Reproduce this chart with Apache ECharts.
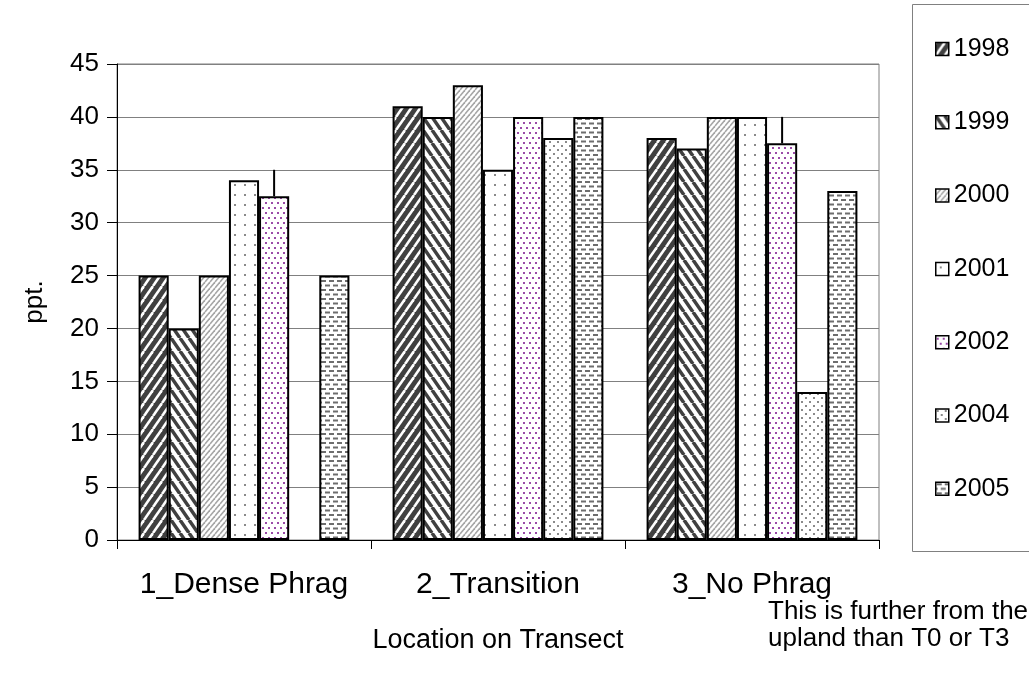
<!DOCTYPE html>
<html>
<head>
<meta charset="utf-8">
<script src="https://cdn.jsdelivr.net/npm/echarts@6/dist/echarts.min.js"></script>
<style>
html,body{margin:0;padding:0;background:#fff;}
#chart{width:1029px;height:685px;}
</style>
</head>
<body>
<div id="chart"></div>
<script>
// ---- data ----
const categories = ['1_Dense Phrag', '2_Transition', '3_No Phrag'];
const years = ['1998', '1999', '2000', '2001', '2002', '2004', '2005'];
const s1998 = [25, 41, 38];
const s1999 = [20, 40, 37];
const s2000 = [25, 43, 40];
const s2001 = [34, 35, 40];
const s2002 = [32.5, 40, 37.5];
const s2004 = [null, 38, 14];
const s2005 = [25, 40, 33];
const err2002High = [35, null, 40];
const yTicks = { min: 0, max: 45, interval: 5 };
const axisTitleX = 'Location on Transect';
const axisTitleY = 'ppt.';
const noteLines = ['This is further from the', 'upland than T0 or T3'];

// ---- patterns ----
function tile(w, h, draw) {
  const c = document.createElement('canvas');
  c.width = w; c.height = h;
  const ctx = c.getContext('2d');
  draw(ctx, w, h);
  return { image: c, repeat: 'repeat' };
}
function stripes(ctx, w, h, up, color, lw) {
  ctx.strokeStyle = color; ctx.lineWidth = lw; ctx.lineCap = 'butt';
  for (let k = -1; k <= 1; k++) {
    ctx.beginPath();
    if (up) { ctx.moveTo(k * w, h); ctx.lineTo(k * w + w, 0); }
    else { ctx.moveTo(k * w, 0); ctx.lineTo(k * w + w, h); }
    ctx.stroke();
  }
}
function dot(ctx, x, y, color, s) {
  ctx.fillStyle = color; ctx.fillRect(x, y, s, s);
}
const patterns = [
  tile(9, 13, (ctx, w, h) => { ctx.fillStyle = '#404040'; ctx.fillRect(0, 0, w, h); stripes(ctx, w, h, true, '#ffffff', 2.6); }),
  tile(9, 13, (ctx, w, h) => { ctx.fillStyle = '#ffffff'; ctx.fillRect(0, 0, w, h); stripes(ctx, w, h, false, '#404040', 3.5); }),
  tile(5, 6, (ctx, w, h) => { ctx.fillStyle = '#ffffff'; ctx.fillRect(0, 0, w, h); stripes(ctx, w, h, true, '#a6a6a6', 1.6); }),
  tile(10, 10, (ctx, w, h) => { ctx.fillStyle = '#ffffff'; ctx.fillRect(0, 0, w, h); dot(ctx, 4, 4, '#8a8a8a', 2); }),
  tile(6, 10, (ctx, w, h) => { ctx.fillStyle = '#ffffff'; ctx.fillRect(0, 0, w, h); dot(ctx, 1, 2, '#9a4aa8', 2); dot(ctx, 4, 7, '#9a4aa8', 2); }),
  tile(8, 8, (ctx, w, h) => { ctx.fillStyle = '#ffffff'; ctx.fillRect(0, 0, w, h); dot(ctx, 1, 1, '#8a8a8a', 2); dot(ctx, 5, 5, '#8a8a8a', 2); }),
  tile(8, 9, (ctx, w, h) => { ctx.fillStyle = '#ffffff'; ctx.fillRect(0, 0, w, h); ctx.fillStyle = '#6e6e6e'; ctx.fillRect(1, 1, 5, 2); ctx.fillRect(5, 5.5, 5, 2); ctx.fillRect(-3, 5.5, 5, 2); })
];

const seriesValues = [s1998, s1999, s2000, s2001, s2002, s2004, s2005];
const GAP = 0.17;
const barSeries = years.map((y, i) => ({
  name: y,
  type: 'bar',
  data: seriesValues[i],
  barGap: '0%',
  barCategoryGap: (GAP * 100) + '%',
  itemStyle: { color: patterns[i], borderColor: '#000', borderWidth: 2 },
  emphasis: { disabled: true },
  animation: false
}));

const errData = [];
err2002High.forEach((hi, i) => { if (hi != null) errData.push([i, s2002[i], hi]); });

const errSeries = {
  type: 'custom',
  name: 'err2002',
  z: 10,
  animation: false,
  data: errData,
  renderItem: function (params, api) {
    const ci = api.value(0), v = api.value(1), hi = api.value(2);
    const band = api.size([1, 0])[0];
    const bw = band * (1 - GAP) / years.length;
    const offset = (4 - (years.length - 1) / 2) * bw;
    const p1 = api.coord([ci, v]);
    const p2 = api.coord([ci, hi]);
    return {
      type: 'line',
      shape: { x1: p1[0] + offset, y1: p1[1], x2: p1[0] + offset, y2: p2[1] },
      style: { stroke: '#000', lineWidth: 2 }
    };
  }
};

const FONT = 'Liberation Sans, Arial, sans-serif';
const chart = echarts.init(document.getElementById('chart'), null, { renderer: 'canvas' });
chart.setOption({
  backgroundColor: '#ffffff',
  animation: false,
  textStyle: { fontFamily: FONT, color: '#000' },
  grid: { left: 117, right: 150, top: 64, bottom: 145, show: true, borderColor: '#808080', borderWidth: 1 },
  legend: {
    data: years,
    orient: 'vertical',
    left: 930,
    top: 30,
    itemWidth: 13,
    itemHeight: 13,
    itemGap: 45.3,
    icon: 'rect',
    selectedMode: false,
    textStyle: { fontSize: 25, fontFamily: FONT, color: '#000', lineHeight: 28 },
    itemStyle: { borderColor: '#000', borderWidth: 1.5 }
  },
  xAxis: {
    type: 'category',
    data: categories,
    axisLine: { lineStyle: { color: '#000', width: 1 } },
    axisTick: { show: true, alignWithLabel: false, length: 9, inside: false, lineStyle: { color: '#000' } },
    axisLabel: { fontSize: 30, color: '#000', margin: 30, fontFamily: FONT, interval: 0, hideOverlap: false },
    name: axisTitleX,
    nameLocation: 'middle',
    nameGap: 87,
    nameTextStyle: { fontSize: 27, color: '#000', fontFamily: FONT },
    splitLine: { show: false }
  },
  yAxis: {
    type: 'value',
    min: yTicks.min, max: yTicks.max, interval: yTicks.interval,
    axisLine: { show: true, lineStyle: { color: '#000', width: 1 } },
    axisTick: { show: true, length: 10, lineStyle: { color: '#000' } },
    axisLabel: { fontSize: 26, color: '#000', margin: 18, fontFamily: FONT },
    splitLine: { show: true, lineStyle: { color: '#808080', width: 1 } },
    name: axisTitleY,
    nameLocation: 'middle',
    nameGap: 69,
    nameRotate: 90,
    nameTextStyle: { fontSize: 26, color: '#000', fontFamily: FONT }
  },
  graphic: [
    { type: 'rect', shape: { x: 912.5, y: 4.5, width: 200, height: 547 }, style: { fill: 'none', stroke: '#808080', lineWidth: 1 }, z: 0 },
    { type: 'text', left: 768, top: 598, style: { text: noteLines.join('\n'), font: '26px ' + FONT, fill: '#000', lineHeight: 27 } }
  ],
  series: barSeries.concat([errSeries])
});
</script>
</body>
</html>
